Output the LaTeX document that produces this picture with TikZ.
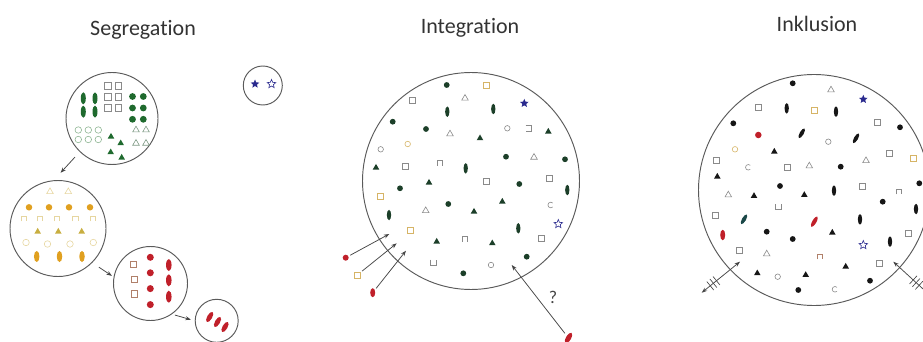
\documentclass[tikz,border=0pt]{standalone}
\usepackage{fontspec}
\setmainfont{Carlito}[Ligatures=NoCommon]
\usetikzlibrary{shapes.geometric,arrows.meta,calc}
\definecolor{ringc}{HTML}{5A5A5A}
\definecolor{arrowc}{HTML}{454545}
\definecolor{titlec}{HTML}{333333}
\definecolor{sgreen}{HTML}{1F6A2E}
\definecolor{lgreen}{HTML}{8DB592}
\definecolor{tgreen}{HTML}{7E9A84}
\definecolor{greyc}{HTML}{8A8A8A}
\definecolor{orangec}{HTML}{E0A020}
\definecolor{paley}{HTML}{E6D6A0}
\definecolor{olivey}{HTML}{C8AE40}
\definecolor{yelc}{HTML}{D6B466}
\definecolor{redc}{HTML}{C0202A}
\definecolor{brownc}{HTML}{B0806A}
\definecolor{bluec}{HTML}{2A2A8E}
\definecolor{intc}{HTML}{1C3F29}
\definecolor{inkc}{HTML}{161616}
\definecolor{tealc}{HTML}{1A4848}
\tikzset{
  ringnode/.style={circle, draw=ringc, line width=0.95pt, inner sep=0pt},
  fd/.style={circle, fill=#1, inner sep=0pt, minimum size=5.8pt},
  od/.style={circle, draw=#1, line width=0.6pt, inner sep=0pt, minimum size=5.5pt},
  osq/.style={rectangle, draw=#1, line width=0.6pt, inner sep=0pt, minimum size=6pt},
  ftr/.style={regular polygon, regular polygon sides=3, fill=#1, inner sep=0pt, minimum size=7.6pt},
  otr/.style={regular polygon, regular polygon sides=3, draw=#1, line width=0.6pt, inner sep=0pt, minimum size=7.6pt},
  lens/.style={ellipse, fill=#1, inner sep=0pt, minimum width=4.3pt, minimum height=10.5pt},
  rod/.style={ellipse, fill=#1, inner sep=0pt, minimum width=4pt, minimum height=11pt, rotate=-30},
  fstar/.style={star, star points=5, star point ratio=2.2, fill=#1, inner sep=0pt, minimum size=9pt},
  ostar/.style={star, star points=5, star point ratio=2.2, draw=#1, line width=0.6pt, inner sep=0pt, minimum size=9pt},
  arr/.style={-{Stealth[length=5.5pt,width=4pt]}, draw=arrowc, line width=0.75pt},
  darr/.style={{Stealth[length=5.5pt,width=4pt]}-{Stealth[length=5.5pt,width=4pt]}, draw=arrowc, line width=0.75pt},
  hashline/.style={draw=arrowc, line width=0.65pt},
  titlenode/.style={font=\fontsize{22}{24}\selectfont, text=titlec, anchor=base},
  capn/.pic={\draw[pic actions] (-2.6,2.6) -- (-2.6,-2.6) -- (2.6,-2.6) -- (2.6,2.6);},
  cupu/.pic={\draw[pic actions] (-2.6,-2.6) -- (-2.6,2.6) -- (2.6,2.6) -- (2.6,-2.6);},
  brk/.pic={\draw[pic actions] (-2.6,-2.6) -- (2.6,-2.6) -- (2.6,2.6) -- (-2.6,2.6);},
  openc/.pic={\draw[pic actions] (45:2.8) arc[start angle=45, end angle=315, radius=2.8];}
}
\begin{document}
\begin{tikzpicture}[x=1pt,y=-1pt]
\useasboundingbox (0,0) rectangle (923,342);

% titles
\node[titlenode] (tseg) at (143,36) {Segregation};
\node[titlenode] (tint) at (470,34) {Integration};
\node[titlenode] (tink) at (817,32) {Inklusion};

% ---------------- Segregation ----------------
\node[ringnode, minimum size=92pt] (green) at (112,118.5) {};
\node[ringnode, minimum size=96pt] (yellow) at (58,228.5) {};
\node[ringnode, minimum size=74pt] (red) at (150.5,283.5) {};
\node[ringnode, minimum size=43pt] (small) at (216.7,320.8) {};
\node[ringnode, minimum size=39pt] (stars) at (262.8,85.5) {};

% green circle contents
\foreach \p [count=\i] in {(107.7,86),(118.3,86),(107.7,97),(118.3,97),(107.7,108),(118.3,108)}
  \node[osq=greyc, minimum size=6.8pt] (g-sq-\i) at \p {};
\foreach \p [count=\i] in {(83.3,98.3),(95,98.3),(83.3,111.7),(95,111.7)}
  \node[lens=sgreen, minimum width=5pt, minimum height=12pt] (g-ls-\i) at \p {};
\foreach \p [count=\i] in {(132.5,96.5),(143.3,96.5),(132.5,108),(143.3,108),(132.5,119.3),(143.3,119.3)}
  \node[fd=sgreen, minimum size=6.8pt] (g-fd-\i) at \p {};
\foreach \p [count=\i] in {(78.3,130),(88.3,130),(98.3,130),(78.3,139.5),(88.3,139.5),(98.3,139.5)}
  \node[od=lgreen, minimum size=6.5pt] (g-od-\i) at \p {};
\foreach \p [count=\i] in {(111,136.7),(120.7,143.3),(110.7,152.3),(121.7,157.7)}
  \node[ftr=sgreen] (g-ft-\i) at \p {};
\foreach \p [count=\i] in {(136,130),(146,130),(136,143.3),(146,143.3)}
  \node[otr=tgreen] (g-ot-\i) at \p {};

% yellow circle contents
\foreach \p [count=\i] in {(50,191.7),(68.3,191.7)}
  \node[otr=paley] (y-ot-\i) at \p {};
\foreach \p [count=\i] in {(29,207.3),(49,207.3),(69,207.3),(90,207.3)}
  \node[fd=orangec, minimum size=6.5pt] (y-fd-\i) at \p {};
\foreach \p in {(24,218.8),(40,218.8),(57.2,218.8),(75.3,218.8),(92.8,218.8)}
  \pic[draw=paley, line width=0.7pt] at \p {capn};
\foreach \p [count=\i] in {(37.7,231.7),(58.3,231.7),(81.7,231.7)}
  \node[ftr=olivey] (y-ft-\i) at \p {};
\foreach \p [count=\i] in {(26,242.5),(47.5,244),(70,244),(93.3,242.5)}
  \node[od=paley, minimum size=6.5pt] (y-od-\i) at \p {};
\foreach \p [count=\i] in {(36.7,256.5),(59.5,256.5),(82,256.5)}
  \node[lens=orangec, minimum width=5.5pt, minimum height=11pt] (y-ls-\i) at \p {};

% red circle contents
\foreach \p [count=\i] in {(133.5,264.2),(134.5,279.5),(134.5,294)}
  \node[osq=brownc, minimum size=6.5pt] (r-sq-\i) at \p {};
\foreach \p [count=\i] in {(150.3,257.3),(150.3,272.8),(150.3,288.6),(150.3,304.6)}
  \node[fd=redc, minimum size=7pt] (r-fd-\i) at \p {};
\foreach \p [count=\i] in {(168.8,265),(168.8,280.3),(168.8,296.7)}
  \node[lens=redc, minimum width=5.5pt, minimum height=12pt] (r-ls-\i) at \p {};

% small red circle contents
\foreach \p [count=\i] in {(209.7,317),(217.5,322),(225,327)}
  \node[rod=redc, minimum width=5pt, minimum height=11.5pt] (s-rd-\i) at \p {};

% star circle contents
\node[fstar=bluec] (st-f) at (255,84) {};
\node[ostar=bluec] (st-o) at (271.5,84) {};

% connectors
\draw[arr, shorten <=7pt, shorten >=10pt] (green.226) -- (yellow.95);
\draw[arr, shorten <=8pt, shorten >=2pt] (yellow.-45) -- (red.170);
\draw[arr, shorten <=3pt, shorten >=4pt] (red.-55) -- (small.180);

% ---------------- Integration ----------------
\node[ringnode, minimum size=217pt] (integ) at (471,181) {};
\foreach \p [count=\i] in {(446.7,85),(392.7,121.7),(426,129),(506,156.7),(565,159.3),(519.3,184),(400,188.3),(448.3,204),(526.7,256.7),(463.3,273.3)}
  \node[fd=intc] (i-fd-\i) at \p {};
\foreach \p [count=\i] in {(447.3,111.7),(493.3,109),(465.7,168.3),(567.3,190),(389,215),(518.3,228.3)}
  \node[lens=intc] (i-ls-\i) at \p {};
\foreach \p [count=\i] in {(480,138.3),(548.3,131.7),(376,167.7),(429,182.7),(474,211.7),(502.3,201.7),(436.7,241.7),(492.3,243.3)}
  \node[ftr=intc] (i-ft-\i) at \p {};
\foreach \p [count=\i] in {(465,98.3),(450,134),(534,157.3),(425.7,210.7)}
  \node[otr=greyc] (i-ot-\i) at \p {};
\foreach \p [count=\i] in {(412.7,100),(405,166),(486.7,181.7),(549,178.3),(541,238.3)}
  \node[osq=greyc] (i-sq-\i) at \p {};
\foreach \p [count=\i] in {(486.7,85),(380,196.7),(410,230.7)}
  \node[osq=yelc] (i-ys-\i) at \p {};
\foreach \p [count=\i] in {(507.3,128.3),(380.7,149.3),(491,265)}
  \node[od=greyc] (i-od-\i) at \p {};
\node[od=yelc] (i-yo) at (407.7,144) {};
\pic[draw=greyc, line width=0.6pt] at (550.7,205) {openc};
\pic[draw=greyc, line width=0.6pt] at (528.3,128.3) {brk};
\foreach \p in {(440,163.3),(465,239.3)}
  \pic[draw=greyc, line width=0.6pt] at \p {capn};
\pic[draw=greyc, line width=0.6pt] at (433.3,262.3) {cupu};
\node[fstar=bluec] (i-sf) at (524.3,103.3) {};
\node[ostar=bluec] (i-so) at (558.3,224) {};

% newcomers outside
\node[fd=redc, minimum size=6pt] (i-in1) at (345.7,257.7) {};
\node[osq=yelc] (i-in2) at (357.3,275) {};
\node[lens=redc, minimum width=5pt, minimum height=9pt] (i-in3) at (372.7,292.7) {};
\node[rod=redc, minimum width=5pt, minimum height=12pt] (i-in4) at (568.5,338) {};
\coordinate (i-tip1) at (389.3,234);
\coordinate (i-tip2) at (396.7,243.3);
\coordinate (i-tip3) at (406,250.7);
\coordinate (i-tip4) at (511.7,265);
\draw[arr, shorten <=2pt] (i-in1) -- (i-tip1);
\draw[arr, shorten <=2pt] (i-in2) -- (i-tip2);
\draw[arr, shorten <=2pt] (i-in3) -- (i-tip3);
\draw[arr, shorten <=3pt] (i-in4) -- (i-tip4);
\node[font=\fontsize{18}{19}\selectfont, text=arrowc] (i-q) at (553,297) {?};

% ---------------- Inklusion ----------------
\node[ringnode, minimum size=231pt] (inkl) at (814,190) {};
\foreach \p [count=\i] in {(792.7,83.3),(733.3,123.3),(900,127.3),(840.7,166.7),(780,186),(919.3,183.3),(882.7,201.7),(766.7,231.7),(792.7,239),(870,280.7),(798.3,290)}
  \node[fd=inkc] (k-fd-\i) at \p {};
\node[fd=redc, minimum size=6.5pt] (k-rfd) at (758.3,135) {};
\foreach \p [count=\i] in {(786.7,108.3),(836,111.7),(834,190.7),(916,209),(860,219.3),(890,241.7)}
  \node[lens=inkc] (k-ls-\i) at \p {};
\node[lens=redc, minimum width=5pt] (k-rls) at (722.7,235) {};
\node[rod=inkc] (k-rd-1) at (801.7,133.3) {};
\node[rod=inkc] (k-rd-2) at (856,138.3) {};
\node[rod=tealc] (k-rd-3) at (744,219.3) {};
\node[rod=redc, minimum height=12pt] (k-rd-4) at (814.3,221.7) {};
\foreach \p [count=\i] in {(774.3,151.7),(717.3,176.7),(804.3,195),(754,196),(832.3,232.7),(845.7,266.7),(757.3,273.3),(805.7,275)}
  \node[ftr=inkc] (k-ft-\i) at \p {};
\foreach \p [count=\i] in {(831,90),(809.3,166),(866,160.7),(728.3,195),(766.7,254)}
  \node[otr=greyc] (k-ot-\i) at \p {};
\foreach \p [count=\i] in {(758.3,107.7),(877.3,122.7),(889,153.3),(716,160),(787.3,167.3),(862.7,186),(715,215),(908.3,233.3),(739.3,250),(879,263.3)}
  \node[osq=greyc] (k-sq-\i) at \p {};
\foreach \p [count=\i] in {(814.3,110),(913.3,158.3)}
  \node[osq=yelc] (k-ys-\i) at \p {};
\foreach \p [count=\i] in {(828.3,141.7),(777.7,276.7)}
  \node[od=greyc] (k-od-\i) at \p {};
\node[od=yelc] (k-yo) at (735,149.3) {};
\foreach \p in {(748.3,167.3),(835,289.3)}
  \pic[draw=greyc, line width=0.6pt] at \p {openc};
\pic[draw=greyc, line width=0.6pt] at (899,191.7) {capn};
\pic[draw=brownc, line width=0.6pt] at (820,256.7) {capn};
\pic[draw=greyc, line width=0.6pt] at (778.3,206.7) {cupu};
\node[fstar=bluec] (k-sf) at (863.3,99.3) {};
\node[ostar=bluec] (k-so) at (863.3,245) {};

% crossing double arrows
\coordinate (k-l1) at (701.7,292.7);
\coordinate (k-l2) at (740,261.7);
\coordinate (k-r1) at (893.3,261.7);
\coordinate (k-r2) at (934,299);
\draw[darr] (k-l1) -- (k-l2);
\draw[darr] (k-r1) -- (k-r2);
\foreach \d in {11,15,19}{
  \coordinate (hl) at ($(k-l1)!\d pt!(k-l2)$);
  \draw[hashline] ($(hl)!5.5pt!90:(k-l2)$) -- ($(hl)!5.5pt!-90:(k-l2)$);
}
\foreach \d in {27,31,35}{
  \coordinate (hr) at ($(k-r1)!\d pt!(k-r2)$);
  \draw[hashline] ($(hr)!5.5pt!90:(k-r2)$) -- ($(hr)!5.5pt!-90:(k-r2)$);
}
\end{tikzpicture}
\end{document}
